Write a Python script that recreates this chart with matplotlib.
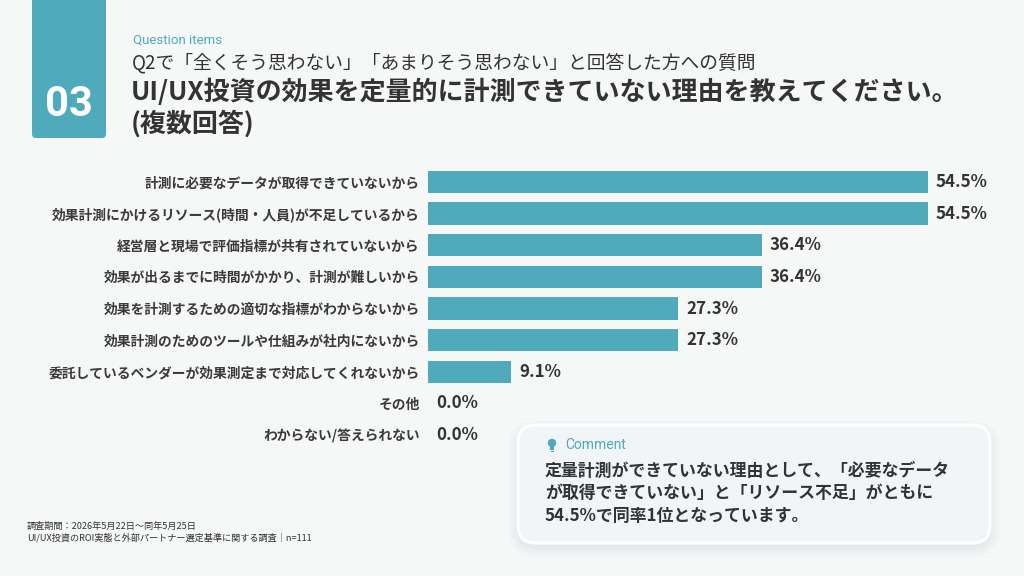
import matplotlib
matplotlib.use('Agg')
import matplotlib.pyplot as plt
from matplotlib.patches import FancyBboxPatch, Circle, Rectangle

plt.rcParams['font.family'] = ['Noto Sans CJK JP', 'DejaVu Sans']

# data
reasons = [
    '計測に必要なデータが取得できていないから',
    '効果計測にかけるリソース(時間・人員)が不足しているから',
    '経営層と現場で評価指標が共有されていないから',
    '効果が出るまでに時間がかかり、計測が難しいから',
    '効果を計測するための適切な指標がわからないから',
    '効果計測のためのツールや仕組みが社内にないから',
    '委託しているベンダーが効果測定まで対応してくれないから',
    'その他',
    'わからない/答えられない',
]
shares = [54.5, 54.5, 36.4, 36.4, 27.3, 27.3, 9.1, 0.0, 0.0]

TEAL = '#4FABBB'
DARK = '#333333'
BG = '#F6F7F7'

W, H = 1024, 576
fig = plt.figure(figsize=(W / 100, H / 100), dpi=100, facecolor=BG)

# overlay in pixel coords for layout stuff
bg = fig.add_axes([0, 0, 1, 1])
bg.set_xlim(0, W)
bg.set_ylim(H, 0)
bg.axis('off')

# number tab
bg.add_patch(FancyBboxPatch((32, -20), 74, 158, boxstyle='round,pad=0,rounding_size=4',
                            fc=TEAL, ec='none'))
bg.text(69, 104, '03', color='white', fontsize=30, fontweight='bold',
        ha='center', va='center', family=['Roboto', 'DejaVu Sans'])

bg.text(133, 40, 'Question items', color=TEAL, fontsize=9.5, va='center',
        family=['Roboto', 'DejaVu Sans'])
bg.text(132, 63, 'Q2で「全くそう思わない」「あまりそう思わない」と回答した方への質問',
        color=DARK, fontsize=13.5, va='center')
bg.text(131, 92, 'UI/UX投資の効果を定量的に計測できていない理由を教えてください。',
        color=DARK, fontsize=18.7, fontweight='bold', va='center')
bg.text(131, 124, '(複数回答)', color=DARK, fontsize=18.7, fontweight='bold', va='center')

# footer
bg.text(27, 526, '調査期間：2026年5月22日〜同年5月25日', color=DARK, fontsize=6.6, va='center')
bg.text(27, 538, 'UI/UX投資のROI実態と外部パートナー選定基準に関する調査｜n=111',
        color=DARK, fontsize=6.6, va='center')

# comment card with soft shadow
for i, a in enumerate([0.025, 0.025, 0.03, 0.035]):
    g = 10 - i * 2.5
    bg.add_patch(FancyBboxPatch((518 - g, 427 - g + 4), 472 + 2 * g, 116 + 2 * g,
                                boxstyle='round,pad=0,rounding_size=%g' % (18 + g),
                                fc='#8a9aa5', ec='none', alpha=a))
bg.add_patch(FancyBboxPatch((518, 425), 472, 118, boxstyle='round,pad=0,rounding_size=18',
                            fc='#F2F5F7', ec='white', lw=2.2))
# bulb icon
bg.add_patch(Circle((552, 443), 4.2, fc=TEAL, ec='none'))
bg.add_patch(Rectangle((549.8, 446), 4.4, 3.5, fc=TEAL, ec='none'))
bg.add_patch(Rectangle((550.5, 450.5), 3, 1.3, fc=TEAL, ec='none'))
bg.text(565, 445, 'Comment', color=TEAL, fontsize=10, va='center',
        family=['Roboto', 'DejaVu Sans'])
comment = ['定量計測ができていない理由として、「必要なデータ',
           'が取得できていない」と「リソース不足」がともに',
           '54.5%で同率1位となっています。']
for k, line in enumerate(comment):
    bg.text(545, 471 + k * 22.5, line, color=DARK, fontsize=12.2, fontweight='bold', va='center')

# bar chart
x0, x1 = 428, 978
ytop, ybot = 166, 451
ax = fig.add_axes([x0 / W, 1 - ybot / H, (x1 - x0) / W, (ybot - ytop) / H])
ax.set_facecolor('none')
pos = list(range(len(reasons)))
ax.barh(pos, shares, height=0.7, color=TEAL, linewidth=0)
ax.set_xlim(0, 60)
ax.set_ylim(len(reasons) - 0.5, -0.5)
ax.set_yticks(pos)
ax.set_yticklabels(reasons, fontsize=9.95, color='#3a3a3a', fontweight='bold')
ax.tick_params(axis='y', length=0, pad=6)
ax.set_xticks([])
for s in ax.spines.values():
    s.set_visible(False)
for p, v in zip(pos, shares):
    ax.annotate('%.1f%%' % v, (v, p), xytext=(6, 0), textcoords='offset points',
                ha='left', va='center', fontsize=12.2, fontweight='bold', color=DARK)

fig.savefig('out.png', dpi=100, facecolor=BG)
